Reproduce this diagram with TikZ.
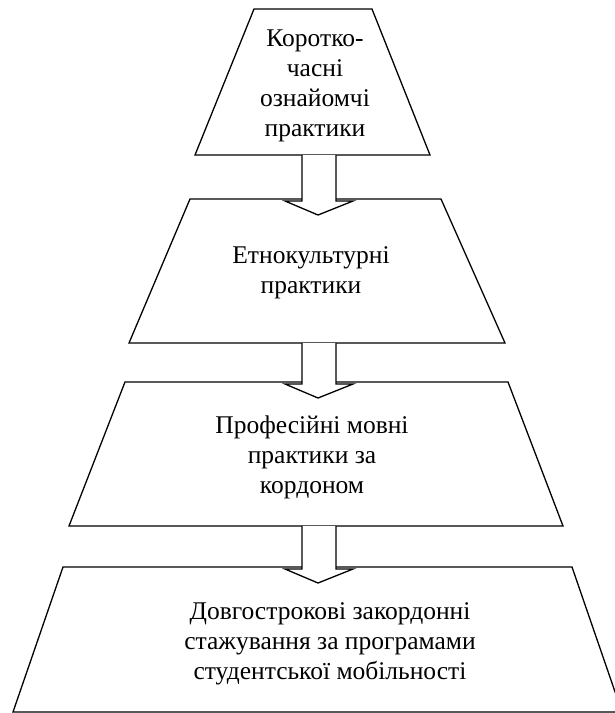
\documentclass[tikz,border=0pt]{standalone}
\usepackage{fontspec}
\setmainfont{Liberation Serif}
\usetikzlibrary{calc}
\begin{document}
\begin{tikzpicture}[x=1pt,y=-1pt,
  level/.style={draw=black,line width=1.3pt,line join=miter,fill=white},
  label/.style={align=center,font=\fontsize{25.5}{30}\selectfont,inner sep=0pt},
  blockarrow/.style={draw=black,line width=1.3pt,fill=white,line join=miter}]
\useasboundingbox (0,0) rectangle (614,713);
% trapezoids
\draw[level] (254,9) -- (372,9) -- (430,155) -- (195,155) -- cycle;
\draw[level] (190,199) -- (441,199) -- (505,343) -- (129,343) -- cycle;
\draw[level] (125,382) -- (508,382) -- (563,526) -- (69,526) -- cycle;
\draw[level] (63,567) -- (572,567) -- (622,712) -- (13,712) -- cycle;
% connection points
\coordinate (b1) at (319,155);
\coordinate (t2) at (319,199);
\coordinate (b2) at (319,343);
\coordinate (t3) at (319,382);
\coordinate (b3) at (319,526);
\coordinate (t4) at (319,567);
% texts
\node[label] (n1) at (315,86) {Коротко-\\часні\\ознайомчі\\практики};
\node[label] (n2) at (311,273) {Етнокультурні\\практики};
\node[label] (n3) at (312,457) {Професійні мовні\\практики за\\кордоном};
\node[label] (n4) at (330,644) {Довгострокові закордонні\\стажування за програмами\\студентської мобільності};
% block arrows
\foreach \a/\b in {b1/t2,b2/t3,b3/t4}{
  \draw[blockarrow] ($(\a)+(-17,0)$) -- ($(\b)+(-17,2)$) -- ($(\b)+(-34,2)$)
    -- ($(\b)+(-1,16)$) -- ($(\b)+(34,2)$) -- ($(\b)+(17,2)$) -- ($(\a)+(17,0)$);
}
\end{tikzpicture}
\end{document}
